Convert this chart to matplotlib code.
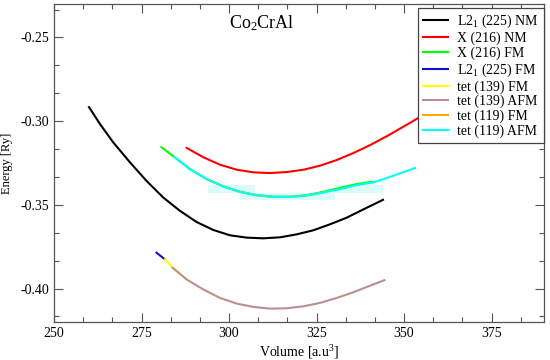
#!/usr/bin/env python3
"""E(V) curves for Co2CrAl, xmgrace look"""

import matplotlib
matplotlib.use('Agg')
import matplotlib.pyplot as plt
from matplotlib.ticker import MultipleLocator, FormatStrFormatter

plt.rcParams['font.family'] = ['Liberation Serif', 'DejaVu Serif']
plt.rcParams['mathtext.fontset'] = 'custom'
plt.rcParams['mathtext.rm'] = 'Liberation Serif'
plt.rcParams['mathtext.it'] = 'Liberation Serif:italic'
plt.rcParams['axes.unicode_minus'] = False

# volumes [a.u^3] and energies [Ry]
vol_l21_nm = [260.0, 263.1, 266.9, 271.7, 276.4, 281.2, 286.0, 290.7, 295.5, 300.3,
              305.1, 309.8, 314.6, 319.4, 324.1, 328.9, 333.7, 338.5, 344.0]
e_l21_nm = [-0.2916, -0.3016, -0.3126, -0.3246, -0.3356, -0.3456, -0.3536, -0.3602, -0.3650, -0.3682,
            -0.3696, -0.3700, -0.3694, -0.3676, -0.3652, -0.3616, -0.3576, -0.3526, -0.3470]

vol_x_nm = [287.9, 292.7, 297.4, 302.2, 307.0, 311.7, 316.5, 321.3, 326.0, 330.8,
            335.6, 340.4, 345.1, 349.9, 353.7, 361.0, 370.0, 380.0, 390.0]
e_x_nm = [-0.3160, -0.3216, -0.3260, -0.3290, -0.3306, -0.3310, -0.3304, -0.3290, -0.3266, -0.3232,
          -0.3190, -0.3142, -0.3090, -0.3032, -0.2986, -0.2876, -0.2736, -0.2566, -0.2386]

vol_x_fm = [280.7, 284.5, 288.8, 293.6, 298.4, 303.1, 307.9, 312.7, 317.5, 322.2,
            327.0, 331.8, 336.5, 340.8]
e_x_fm = [-0.3156, -0.3216, -0.3286, -0.3346, -0.3390, -0.3422, -0.3442, -0.3452, -0.3452, -0.3442,
          -0.3422, -0.3398, -0.3376, -0.3362]

vol_l21_fm = [279.3, 281.7]
e_l21_fm = [-0.3786, -0.3826]

vol_t139_fm = [281.7, 283.9, 287.9]
e_t139_fm = [-0.3826, -0.3876, -0.3946]

vol_t139_afm = [283.9, 287.9, 292.7, 297.4, 302.2, 307.0, 311.7, 316.5, 321.3, 326.0,
                330.8, 335.6, 340.4, 344.4]
e_t139_afm = [-0.3876, -0.3946, -0.4006, -0.4056, -0.4090, -0.4110, -0.4120, -0.4118, -0.4106, -0.4086,
              -0.4056, -0.4022, -0.3982, -0.3950]

vol_t119_fm = [293.6, 298.4, 303.1, 307.9, 312.7, 317.5, 322.2, 327.0]
e_t119_fm = [-0.3346, -0.3390, -0.3422, -0.3442, -0.3452, -0.3452, -0.3444, -0.3426]

vol_t119_afm = [284.5, 288.8, 293.6, 298.4, 303.1, 307.9, 312.7, 317.5, 322.2, 327.0,
                331.8, 336.5, 341.3, 346.1, 353.2]
e_t119_afm = [-0.3216, -0.3286, -0.3346, -0.3390, -0.3422, -0.3442, -0.3452, -0.3452, -0.3444, -0.3426,
              -0.3406, -0.3382, -0.3366, -0.3332, -0.3280]

# pale cyan smudge behind the FM/AFM minimum: (v0, v1, e_low, e_high)
band_boxes = [(294.1, 307.4, -0.3430, -0.3382),
              (303.1, 330.3, -0.3472, -0.3430),
              (330.3, 344.0, -0.3430, -0.3382)]

series = [
    (vol_l21_nm, e_l21_nm, 'black', r'L2$_1$ (225) NM'),
    (vol_x_nm, e_x_nm, '#ff0000', 'X (216) NM'),
    (vol_x_fm, e_x_fm, '#00ff00', 'X (216) FM'),
    (vol_l21_fm, e_l21_fm, '#1010c8', r'L2$_1$ (225) FM'),
    (vol_t139_fm, e_t139_fm, '#ffff00', 'tet (139) FM'),
    (vol_t139_afm, e_t139_afm, '#bc8f8f', 'tet (139) AFM'),
    (vol_t119_fm, e_t119_fm, '#ffa500', 'tet (119) FM'),
    (vol_t119_afm, e_t119_afm, '#00ffff', 'tet (119) AFM'),
]

fig = plt.figure(figsize=(5.5, 3.6), dpi=100)
ax = fig.add_axes([54 / 550, 1 - 322 / 360, 490 / 550, 318 / 360])

for v0, v1, lo, hi in band_boxes:
    ax.fill_between([v0, v1], [lo, lo], [hi, hi], color='#dafcfc', lw=0, zorder=1)

for vol, en, col, lab in series:
    ax.plot(vol, en, color=col, lw=1.5, label=lab, zorder=2)

ax.set_xlim(250, 390)
ax.set_ylim(-0.42, -0.23)
ax.xaxis.set_major_locator(MultipleLocator(25))
ax.xaxis.set_minor_locator(MultipleLocator(25 / 3))
ax.yaxis.set_major_locator(MultipleLocator(0.05))
ax.yaxis.set_minor_locator(MultipleLocator(0.05 / 3))
ax.xaxis.set_major_formatter(FormatStrFormatter('%d'))
ax.yaxis.set_major_formatter(FormatStrFormatter('%.2f'))
ax.tick_params(which='both', direction='in', top=True, right=True,
               color='#555555', labelsize=10)
ax.tick_params(which='major', length=6.5, width=0.8)
ax.tick_params(which='minor', length=3.5, width=0.8)
for sp in ax.spines.values():
    sp.set_color('#555555')
    sp.set_linewidth(0.9)

ax.set_xlabel(r'Volume [a.u$^3$]', fontsize=10, labelpad=2)
ax.set_ylabel('Energy [Ry]', fontsize=9, labelpad=5)

ax.text(309.3, -0.2446, r'Co$_2$CrAl', fontsize=13, ha='center', va='baseline')

leg = ax.legend(loc='upper right', bbox_to_anchor=(1.0, 1 - 4 / 318),
                borderaxespad=0, fontsize=10, fancybox=False,
                edgecolor='#444444', framealpha=1, labelspacing=0.1,
                handlelength=1.8, handletextpad=0.7, borderpad=0.35)
leg.get_frame().set_linewidth(0.9)

plt.savefig('out.png', dpi=100)
plt.close()
